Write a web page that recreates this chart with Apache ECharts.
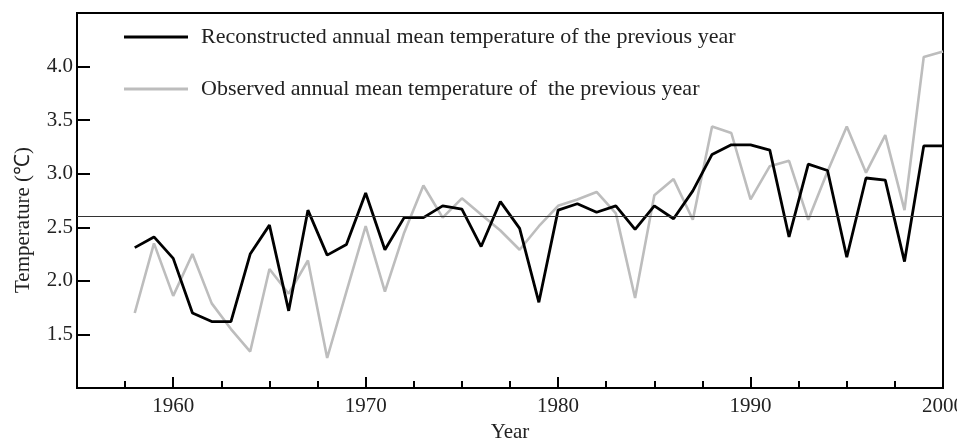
<!DOCTYPE html>
<html>
<head>
<meta charset="utf-8">
<script src="https://cdn.jsdelivr.net/npm/echarts@6/dist/echarts.min.js"></script>
<style>
  html, body { margin: 0; padding: 0; background: #ffffff; }
  #chart { width: 957px; height: 441px; }
</style>
</head>
<body>
<div id="chart"></div>
<script>
// Annual mean temperature (°C) of the previous year, 1958–2000
const years = [1958, 1959, 1960, 1961, 1962, 1963, 1964, 1965, 1966, 1967,
               1968, 1969, 1970, 1971, 1972, 1973, 1974, 1975, 1976, 1977,
               1978, 1979, 1980, 1981, 1982, 1983, 1984, 1985, 1986, 1987,
               1988, 1989, 1990, 1991, 1992, 1993, 1994, 1995, 1996, 1997,
               1998, 1999, 2000];
const reconstructed = [2.31, 2.41, 2.21, 1.70, 1.62, 1.62, 2.25, 2.52, 1.72, 2.66,
                       2.24, 2.34, 2.82, 2.29, 2.59, 2.59, 2.70, 2.67, 2.32, 2.74,
                       2.49, 1.80, 2.66, 2.72, 2.64, 2.70, 2.48, 2.70, 2.58, 2.84,
                       3.18, 3.27, 3.27, 3.22, 2.41, 3.09, 3.03, 2.22, 2.96, 2.94,
                       2.18, 3.26, 3.26];
const observed = [1.70, 2.35, 1.86, 2.25, 1.79, 1.55, 1.34, 2.11, 1.88, 2.19,
                  1.28, 1.90, 2.51, 1.90, 2.45, 2.89, 2.59, 2.77, 2.62, 2.47,
                  2.29, 2.51, 2.70, 2.76, 2.83, 2.63, 1.84, 2.80, 2.95, 2.57,
                  3.44, 3.38, 2.76, 3.07, 3.12, 2.57, 3.02, 3.44, 3.01, 3.36,
                  2.66, 4.09, 4.14];
const seriesNames = ['Reconstructed annual mean temperature of the previous year',
                     'Observed annual mean temperature of  the previous year'];
const yearTicks = [1960, 1970, 1980, 1990, 2000];
const tempTicks = [1.5, 2.0, 2.5, 3.0, 3.5, 4.0];
const referenceLevel = 2.6;

const FONT = 'Liberation Serif, Times New Roman, serif';
const TEXT = '#222';

const pairs = (vals) => years.map((y, i) => [y, vals[i]]);

const chart = echarts.init(document.getElementById('chart'), null, { renderer: 'canvas' });
chart.setOption({
  animation: false,
  backgroundColor: '#ffffff',
  grid: {
    left: 77, right: 14, top: 13, bottom: 53,
    containLabel: false,
    outerBoundsMode: 'none',
    show: true, borderColor: '#000', borderWidth: 2, backgroundColor: 'transparent'
  },
  legend: {
    orient: 'vertical',
    left: 124, top: 26,
    padding: 0,
    itemWidth: 64, itemHeight: 3,
    itemGap: 30,
    icon: 'rect',
    textStyle: { fontFamily: FONT, fontSize: 22, color: TEXT, padding: [0, 0, 0, 8] },
    data: seriesNames
  },
  xAxis: [{
    type: 'value',
    min: 1955, max: 2000,
    name: 'Year',
    nameLocation: 'middle',
    nameGap: 33,
    nameTextStyle: { fontFamily: FONT, fontSize: 21, color: TEXT },
    axisLine: { lineStyle: { color: '#000', width: 2 } },
    axisTick: { inside: true, length: 11, customValues: yearTicks, lineStyle: { color: '#000', width: 2 } },
    axisLabel: {
      customValues: yearTicks, fontFamily: FONT, fontSize: 21, color: TEXT, margin: 8,
      formatter: (v) => String(v)
    },
    splitLine: { show: false }
  }, {
    // minor ticks every 2.5 years
    type: 'value',
    position: 'bottom',
    min: 1955, max: 2000, interval: 2.5,
    axisLine: { show: false },
    axisTick: { inside: true, length: 7, lineStyle: { color: '#000', width: 2 } },
    axisLabel: { show: false },
    splitLine: { show: false }
  }],
  yAxis: {
    type: 'value',
    min: 1.0, max: 4.5, interval: 0.5,
    axisLine: { show: true, lineStyle: { color: '#000', width: 2 } },
    axisTick: { show: true, inside: true, length: 13, customValues: tempTicks, lineStyle: { color: '#000', width: 2 } },
    axisLabel: {
      customValues: tempTicks, fontFamily: FONT, fontSize: 21, color: TEXT, margin: 4,
      formatter: (v) => Number(v).toFixed(1)
    },
    splitLine: { show: false }
  },
  graphic: [{
    type: 'text',
    x: 23, y: 220,
    rotation: Math.PI / 2,
    style: {
      text: 'Temperature (℃)',
      fontFamily: FONT, fontSize: 21, fill: TEXT,
      textAlign: 'center', textVerticalAlign: 'middle'
    }
  }],
  series: [{
    name: seriesNames[1],
    type: 'line',
    data: pairs(observed),
    symbol: 'none',
    itemStyle: { color: '#bdbdbd' },
    lineStyle: { color: '#bdbdbd', width: 2.6 },
    z: 2
  }, {
    name: seriesNames[0],
    type: 'line',
    data: pairs(reconstructed),
    symbol: 'none',
    itemStyle: { color: '#000' },
    lineStyle: { color: '#000', width: 2.8 },
    z: 3,
    markLine: {
      silent: true,
      symbol: ['none', 'none'],
      label: { show: false },
      lineStyle: { color: '#333', width: 1.2, type: 'solid' },
      data: [{ yAxis: referenceLevel }]
    }
  }]
});
</script>
</body>
</html>
